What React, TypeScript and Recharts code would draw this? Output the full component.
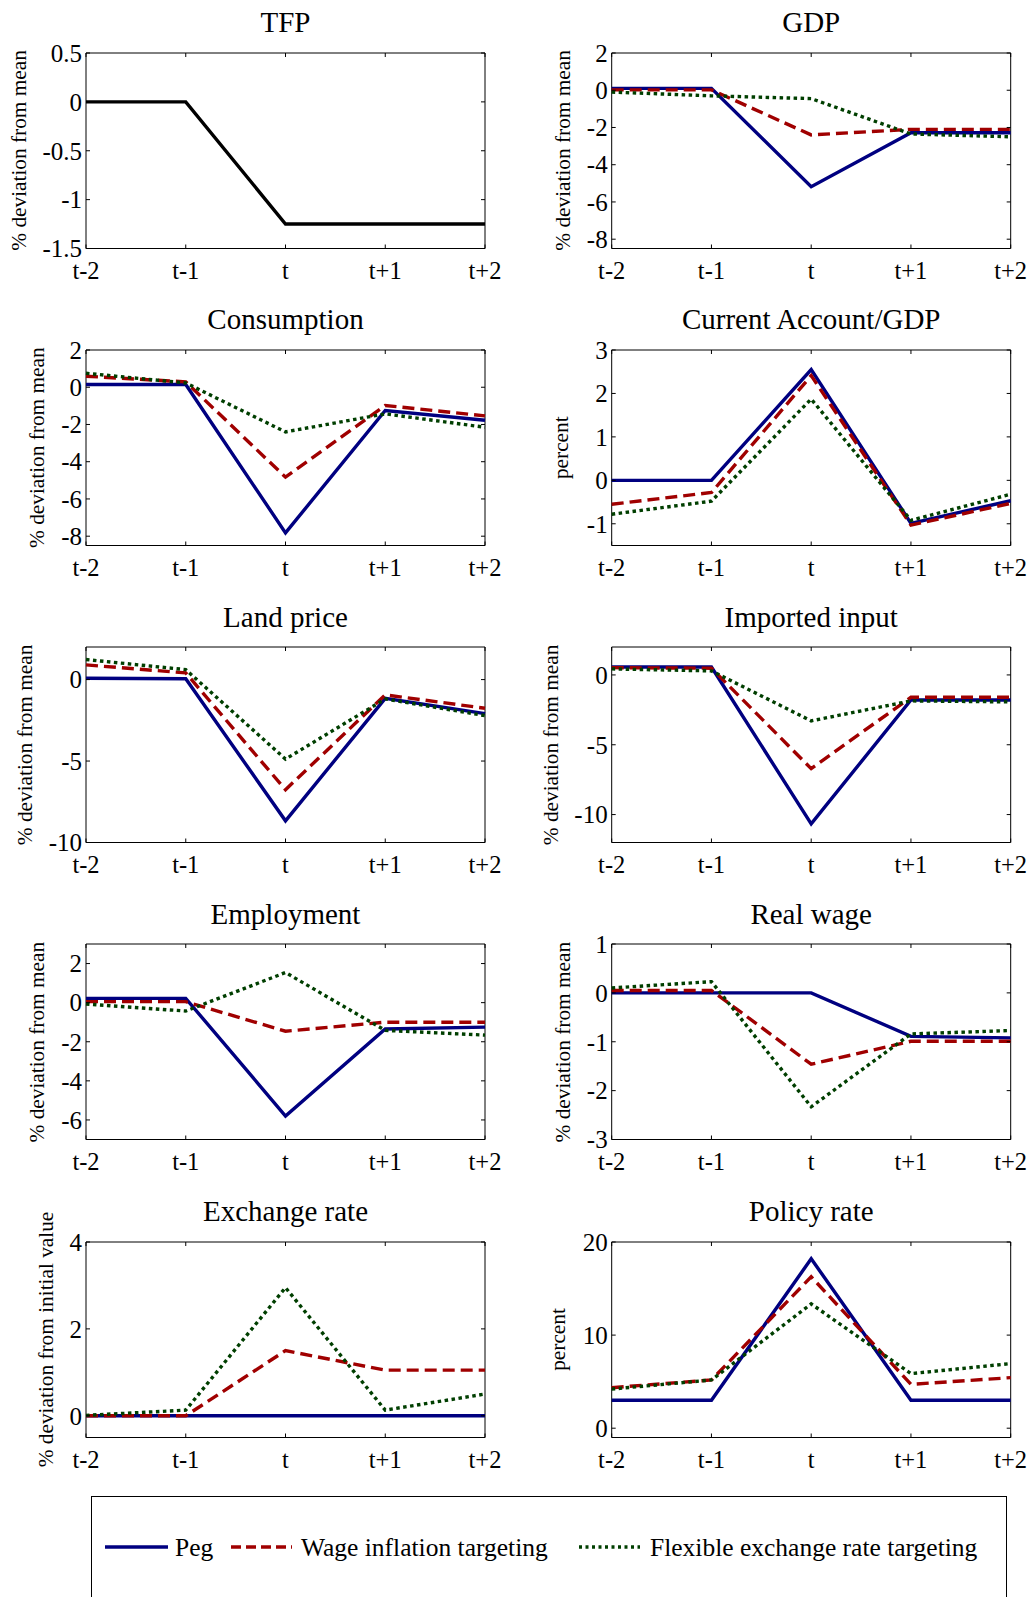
import React from 'react';
import { LineChart, Line, XAxis, YAxis, ReferenceArea } from 'recharts';

// Periods around the shock
const periods = ['t-2', 't-1', 't', 't+1', 't+2'];

// TFP shock path
const tfp = [0, 0, -1.25, -1.25, -1.25];

// GDP
const gdpPeg = [0.1, 0.1, -5.18, -2.28, -2.28];
const gdpWage = [0.02, 0.02, -2.4, -2.1, -2.1];
const gdpFlex = [-0.1, -0.3, -0.45, -2.35, -2.5];

// Consumption
const consPeg = [0.15, 0.15, -7.82, -1.25, -1.77];
const consWage = [0.59, 0.29, -4.83, -0.98, -1.54];
const consFlex = [0.75, 0.23, -2.4, -1.43, -2.15];

// Current account / GDP
const caPeg = [0, 0, 2.55, -0.99, -0.47];
const caWage = [-0.55, -0.28, 2.41, -1.03, -0.53];
const caFlex = [-0.78, -0.48, 1.87, -0.92, -0.32];

// Land price
const landPeg = [0.08, 0.05, -8.67, -1.15, -2.09];
const landWage = [0.9, 0.41, -6.76, -0.94, -1.76];
const landFlex = [1.23, 0.61, -4.88, -1.19, -2.21];

// Imported input
const impPeg = [0.57, 0.57, -10.67, -1.79, -1.79];
const impWage = [0.52, 0.48, -6.71, -1.6, -1.6];
const impFlex = [0.43, 0.29, -3.29, -1.86, -1.93];

// Employment
const empPeg = [0.22, 0.22, -5.8, -1.35, -1.25];
const empWage = [0.05, 0.05, -1.46, -1.0, -1.0];
const empFlex = [-0.07, -0.43, 1.54, -1.42, -1.66];

// Real wage
const rwPeg = [0, 0, 0, -0.89, -0.92];
const rwWage = [0.05, 0.05, -1.46, -0.99, -0.99];
const rwFlex = [0.1, 0.23, -2.33, -0.84, -0.77];

// Exchange rate
const fxPeg = [0, 0, 0, 0, 0];
const fxWage = [0, 0, 1.5, 1.05, 1.05];
const fxFlex = [0.01, 0.13, 2.95, 0.13, 0.5];

// Policy rate
const ratePeg = [3, 3, 18.2, 3, 3];
const rateWage = [4.35, 5.18, 16.26, 4.71, 5.43];
const rateFlex = [4.2, 5.18, 13.35, 5.86, 6.94];

const regimeNames = ['Peg', 'Wage inflation targeting', 'Flexible exchange rate targeting'];

const FONT = "'Liberation Serif', 'Times New Roman', Times, serif";
const BLUE = '#000080';
const RED = '#A00000';
const GREEN = '#003F00';
const DASH = '12 6';
const DOT = '3.5 3.5';
const LINE_W = 3.4;

const BOX_W = 399;
const BOX_H = 195.5;
const TOP_PAD = 60;
const BOTTOM_PAD = 50;
const COLS = [
  { left: 0, width: 516, boxLeft: 86 },
  { left: 516, width: 517, boxLeft: 611.7 },
];
const rowBoxTop = (r: number) => 52.7 + r * 297.25;

type Series = { key: string; values: number[]; color: string; dash?: string };
type Panel = {
  title: string;
  ylabel: string;
  domain: [number, number];
  ticks: number[];
  labelX: number;
  series: Series[];
};

const three = (peg: number[], wage: number[], flex: number[]): Series[] => [
  { key: 'peg', values: peg, color: BLUE },
  { key: 'wage', values: wage, color: RED, dash: DASH },
  { key: 'flex', values: flex, color: GREEN, dash: DOT },
];

const DEV = '% deviation from mean';

const panels: Panel[] = [
  { title: 'TFP', ylabel: DEV, domain: [-1.5, 0.5], ticks: [-1.5, -1, -0.5, 0, 0.5], labelX: 18.5,
    series: [{ key: 'tfp', values: tfp, color: '#000000' }] },
  { title: 'GDP', ylabel: DEV, domain: [-8.5, 2], ticks: [-8, -6, -4, -2, 0, 2], labelX: 563,
    series: three(gdpPeg, gdpWage, gdpFlex) },
  { title: 'Consumption', ylabel: DEV, domain: [-8.5, 2], ticks: [-8, -6, -4, -2, 0, 2], labelX: 37,
    series: three(consPeg, consWage, consFlex) },
  { title: 'Current Account/GDP', ylabel: 'percent', domain: [-1.5, 3], ticks: [-1, 0, 1, 2, 3], labelX: 561,
    series: three(caPeg, caWage, caFlex) },
  { title: 'Land price', ylabel: DEV, domain: [-10, 2], ticks: [-10, -5, 0], labelX: 25,
    series: three(landPeg, landWage, landFlex) },
  { title: 'Imported input', ylabel: DEV, domain: [-12, 2], ticks: [-10, -5, 0], labelX: 551,
    series: three(impPeg, impWage, impFlex) },
  { title: 'Employment', ylabel: DEV, domain: [-7, 3], ticks: [-6, -4, -2, 0, 2], labelX: 37,
    series: three(empPeg, empWage, empFlex) },
  { title: 'Real wage', ylabel: DEV, domain: [-3, 1], ticks: [-3, -2, -1, 0, 1], labelX: 563,
    series: three(rwPeg, rwWage, rwFlex) },
  { title: 'Exchange rate', ylabel: '% deviation from initial value', domain: [-0.5, 4], ticks: [0, 2, 4], labelX: 46,
    series: three(fxPeg, fxWage, fxFlex) },
  { title: 'Policy rate', ylabel: 'percent', domain: [-1, 20], ticks: [0, 10, 20], labelX: 558,
    series: three(ratePeg, rateWage, rateFlex) },
];

const XTick = (props: any) => {
  const { x, y, payload } = props;
  return (
    <g>
      <line x1={x} y1={y} x2={x} y2={y - 4} stroke="#000" strokeWidth={1} />
      <line x1={x} y1={y - BOX_H} x2={x} y2={y - BOX_H + 4} stroke="#000" strokeWidth={1} />
      <text x={x} y={y + 30} textAnchor="middle" fontFamily={FONT} fontSize={24.5} fill="#000">
        {payload.value}
      </text>
    </g>
  );
};

const YTick = (props: any) => {
  const { x, y, payload } = props;
  return (
    <g>
      <line x1={x} y1={y} x2={x + 4} y2={y} stroke="#000" strokeWidth={1} />
      <line x1={x + BOX_W} y1={y} x2={x + BOX_W - 4} y2={y} stroke="#000" strokeWidth={1} />
      <text x={x - 4} y={y} dy="0.35em" textAnchor="end" fontFamily={FONT} fontSize={25} fill="#000">
        {String(payload.value)}
      </text>
    </g>
  );
};

function PanelChart({ panel, index }: { panel: Panel; index: number }) {
  const col = COLS[index % 2];
  const row = Math.floor(index / 2);
  const boxTop = rowBoxTop(row);
  const yAxisW = col.boxLeft - col.left;
  const rightMargin = col.width - yAxisW - BOX_W;
  const data = periods.map((p, i) => {
    const rec: Record<string, any> = { period: p };
    panel.series.forEach((s) => { rec[s.key] = s.values[i]; });
    return rec;
  });
  return (
    <div style={{ position: 'absolute', left: col.left, top: boxTop - TOP_PAD }}>
      <LineChart
        width={col.width}
        height={TOP_PAD + BOX_H + BOTTOM_PAD}
        data={data}
        margin={{ top: TOP_PAD, right: rightMargin, bottom: 0, left: 0 }}
      >
        <XAxis
          dataKey="period"
          type="category"
          scale="point"
          padding={{ left: 0, right: 0 }}
          height={BOTTOM_PAD}
          axisLine={false}
          tickLine={false}
          tickSize={0}
          tickMargin={0}
          interval={0}
          tick={<XTick />}
        />
        <YAxis
          type="number"
          domain={panel.domain}
          ticks={panel.ticks}
          allowDataOverflow
          width={yAxisW}
          axisLine={false}
          tickLine={false}
          tickSize={0}
          tickMargin={0}
          interval={0}
          tick={<YTick />}
        />
        <ReferenceArea
          x1={periods[0]}
          x2={periods[periods.length - 1]}
          y1={panel.domain[0]}
          y2={panel.domain[1]}
          fill="none"
          fillOpacity={0}
          stroke="#000"
          strokeWidth={1}
          ifOverflow="visible"
        />
        {panel.series.map((s) => (
          <Line
            key={s.key}
            type="linear"
            dataKey={s.key}
            stroke={s.color}
            strokeWidth={LINE_W}
            strokeDasharray={s.dash}
            dot={false}
            activeDot={false}
            isAnimationActive={false}
          />
        ))}
      </LineChart>
    </div>
  );
}

function Overlay() {
  return (
    <svg
      width={1033}
      height={1597}
      style={{ position: 'absolute', left: 0, top: 0, pointerEvents: 'none' }}
    >
      {panels.map((p, i) => {
        const col = COLS[i % 2];
        const boxTop = rowBoxTop(Math.floor(i / 2));
        const cx = col.boxLeft + BOX_W / 2;
        const cy = boxTop + BOX_H / 2;
        return (
          <g key={p.title}>
            <text x={cx} y={boxTop - 20.5} textAnchor="middle" fontFamily={FONT} fontSize={29} fill="#000">
              {p.title}
            </text>
            <text
              transform={`translate(${p.labelX},${cy}) rotate(-90)`}
              textAnchor="middle"
              dominantBaseline="central"
              fontFamily={FONT}
              fontSize={21.3}
              fill="#000"
            >
              {p.ylabel}
            </text>
          </g>
        );
      })}
      {/* legend */}
      <rect x={91.5} y={1496.5} width={915} height={120} fill="none" stroke="#000" strokeWidth={1} />
      <line x1={105} y1={1547} x2={168} y2={1547} stroke={BLUE} strokeWidth={LINE_W} />
      <text x={175} y={1556} fontFamily={FONT} fontSize={25.5} fill="#000">{regimeNames[0]}</text>
      <line x1={231} y1={1547} x2={292} y2={1547} stroke={RED} strokeWidth={LINE_W} strokeDasharray="10 5" />
      <text x={301} y={1556} fontFamily={FONT} fontSize={25.5} fill="#000">{regimeNames[1]}</text>
      <line x1={579} y1={1547} x2={640} y2={1547} stroke={GREEN} strokeWidth={LINE_W} strokeDasharray="3 3.5" />
      <text x={650} y={1556} fontFamily={FONT} fontSize={25.5} fill="#000">{regimeNames[2]}</text>
    </svg>
  );
}

export default function App() {
  return (
    <div style={{ position: 'absolute', left: 0, top: 0, width: 1033, height: 1597, background: '#fff', overflow: 'hidden' }}>
      {panels.map((p, i) => (
        <PanelChart key={p.title} panel={p} index={i} />
      ))}
      <Overlay />
    </div>
  );
}
